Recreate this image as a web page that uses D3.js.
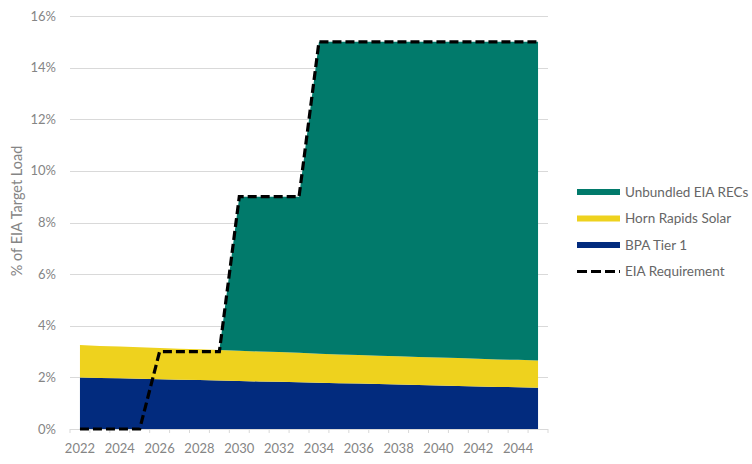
<!DOCTYPE html>
<html>
<head>
<meta charset="utf-8">
<script src="https://cdn.jsdelivr.net/npm/d3@7"></script>
<style>
  html, body { margin: 0; padding: 0; background: #fff; }
  svg text { font-family: Lato, "Open Sans", sans-serif; }
</style>
</head>
<body>
<svg id="chart" width="752" height="464"></svg>
<script>
// Compliance years
const years = [2022, 2023, 2024, 2025, 2026, 2027, 2028, 2029, 2030, 2031, 2032, 2033,
               2034, 2035, 2036, 2037, 2038, 2039, 2040, 2041, 2042, 2043, 2044, 2045];

// Resource contributions, % of EIA target load
const bpaTier1 = [2.00, 1.98, 1.97, 1.95, 1.93, 1.91, 1.90, 1.88, 1.86, 1.84, 1.83, 1.81,
                  1.79, 1.77, 1.76, 1.74, 1.72, 1.70, 1.69, 1.67, 1.65, 1.63, 1.62, 1.60];
const hornRapidsSolar = [1.25, 1.24, 1.23, 1.22, 1.21, 1.20, 1.19, 1.18, 1.17, 1.16, 1.15, 1.14,
                         1.13, 1.12, 1.11, 1.10, 1.10, 1.09, 1.08, 1.08, 1.07, 1.06, 1.06, 1.05];
const unbundledRecs = [0, 0, 0, 0, 0, 0, 0, 0, 5.97, 6.00, 6.02, 6.05,
                       12.08, 12.11, 12.13, 12.16, 12.18, 12.21, 12.23, 12.25, 12.28, 12.31, 12.32, 12.35];

// Statutory requirement
const eiaRequirement = [0, 0, 0, 0, 3, 3, 3, 3, 9, 9, 9, 9,
                        15, 15, 15, 15, 15, 15, 15, 15, 15, 15, 15, 15];

const yTicks = [0, 2, 4, 6, 8, 10, 12, 14, 16];
const xTickYears = [2022, 2024, 2026, 2028, 2030, 2032, 2034, 2036, 2038, 2040, 2042, 2044];

const seriesKeys = ["BPA Tier 1", "Horn Rapids Solar", "Unbundled EIA RECs"];
const colors = {
  "BPA Tier 1": "#022b7e",
  "Horn Rapids Solar": "#eed21e",
  "Unbundled EIA RECs": "#017a6b"
};

const rows = years.map((y, i) => ({
  year: y,
  "BPA Tier 1": bpaTier1[i],
  "Horn Rapids Solar": hornRapidsSolar[i],
  "Unbundled EIA RECs": unbundledRecs[i]
}));

const svg = d3.select("#chart");
const plotLeft = 70, plotRight = 548, plotTop = 16, plotBottom = 429;
const textGrey = "#858585";

const x = d3.scalePoint().domain(years).range([plotLeft, plotRight]).padding(0.5);
const y = d3.scaleLinear().domain([0, 16]).range([plotBottom, plotTop]);

// Gridlines
svg.append("g")
  .selectAll("line")
  .data(yTicks)
  .join("line")
  .attr("x1", plotLeft).attr("x2", plotRight)
  .attr("y1", d => Math.round(y(d)) + 0.5).attr("y2", d => Math.round(y(d)) + 0.5)
  .attr("stroke", "#d9d9d9").attr("stroke-width", 1);

// Stacked areas
const stacked = d3.stack().keys(seriesKeys)(rows);
const area = d3.area()
  .x(d => x(d.data.year))
  .y0(d => y(d[0]))
  .y1(d => y(d[1]));

svg.append("g")
  .selectAll("path")
  .data(stacked)
  .join("path")
  .attr("fill", d => colors[d.key])
  .attr("d", area);

// Category axis
const step = x.step();
const xAxisG = svg.append("g");
xAxisG.append("line")
  .attr("x1", plotLeft).attr("x2", plotRight)
  .attr("y1", plotBottom + 0.5).attr("y2", plotBottom + 0.5)
  .attr("stroke", "#d9d9d9");
xAxisG.selectAll("line.tick")
  .data(d3.range(years.length + 1))
  .join("line")
  .attr("class", "tick")
  .attr("x1", i => plotLeft + i * step).attr("x2", i => plotLeft + i * step)
  .attr("y1", plotBottom).attr("y2", plotBottom + 4)
  .attr("stroke", "#d9d9d9");
xAxisG.selectAll("text")
  .data(xTickYears)
  .join("text")
  .attr("x", d => x(d))
  .attr("y", 453)
  .attr("text-anchor", "middle")
  .attr("fill", textGrey)
  .attr("font-size", 13)
  .text(d => d);

// Value axis labels
svg.append("g")
  .selectAll("text")
  .data(yTicks)
  .join("text")
  .attr("x", 56)
  .attr("y", d => y(d) + 4.5)
  .attr("text-anchor", "end")
  .attr("fill", textGrey)
  .attr("font-size", 13)
  .text(d => d + "%");

svg.append("text")
  .attr("transform", "translate(22,211) rotate(-90)")
  .attr("text-anchor", "middle")
  .attr("fill", textGrey)
  .attr("font-size", 14.5)
  .text("% of EIA Target Load");

// Requirement line
const line = d3.line()
  .x((d, i) => x(years[i]))
  .y(d => y(d));

svg.append("path")
  .datum(eiaRequirement)
  .attr("fill", "none")
  .attr("stroke", "#000")
  .attr("stroke-width", 3.2)
  .attr("stroke-dasharray", "9,4")
  .attr("d", line);

// Legend
const legendItems = [
  { label: "Unbundled EIA RECs", color: colors["Unbundled EIA RECs"], dashed: false },
  { label: "Horn Rapids Solar", color: colors["Horn Rapids Solar"], dashed: false },
  { label: "BPA Tier 1", color: colors["BPA Tier 1"], dashed: false },
  { label: "EIA Requirement", color: "#000", dashed: true }
];
const legend = svg.append("g");
const lg = legend.selectAll("g")
  .data(legendItems)
  .join("g")
  .attr("transform", (d, i) => `translate(577,${192 + i * 26.5})`);
lg.append("line")
  .attr("x1", 0).attr("x2", 43)
  .attr("y1", 0).attr("y2", 0)
  .attr("stroke", d => d.color)
  .attr("stroke-width", d => d.dashed ? 3 : 6)
  .attr("stroke-dasharray", d => d.dashed ? "10,4" : null);
lg.append("text")
  .attr("x", 48)
  .attr("y", 4.5)
  .attr("fill", "#666")
  .attr("font-size", 13.5)
  .text(d => d.label);
</script>
</body>
</html>
